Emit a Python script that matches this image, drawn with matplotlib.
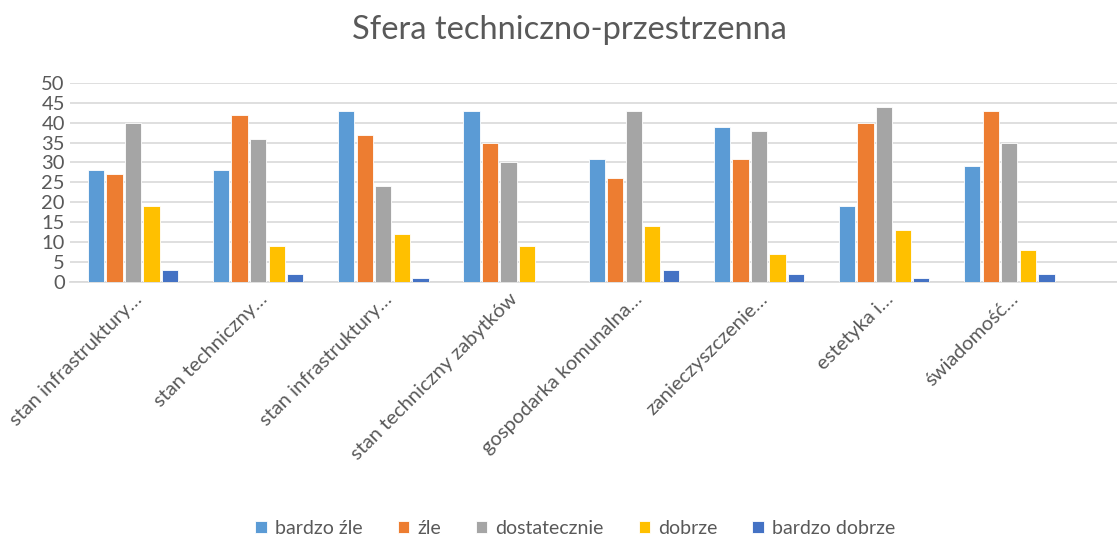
import numpy as np
import matplotlib.pyplot as plt

categories = ["stan infrastruktury…", "stan techniczny…", "stan infrastruktury…",
              "stan techniczny zabytków", "gospodarka komunalna…", "zanieczyszczenie…",
              "estetyka i…", "świadomość…"]
series = ["bardzo źle", "źle", "dostatecznie", "dobrze", "bardzo dobrze"]
bardzo_zle = [28, 28, 43, 43, 31, 39, 19, 29]
zle = [27, 42, 37, 35, 26, 31, 40, 43]
dostatecznie = [40, 36, 24, 30, 43, 38, 44, 35]
dobrze = [19, 9, 12, 9, 14, 7, 13, 8]
bardzo_dobrze = [3, 2, 1, 0, 3, 2, 1, 2]
colors = ["#5B9BD5", "#ED7D31", "#A5A5A5", "#FFC000", "#4472C4"]

plt.rcParams["font.family"] = ["Lato", "DejaVu Sans"]
txt = "#595959"

fig = plt.figure(figsize=(11.17, 5.42), dpi=100)
ax = fig.add_axes([0.063, 0.480, 0.937, 0.367])

x = np.arange(len(categories))
pitch = 0.148
width = 0.13
for i, (vals, name) in enumerate(zip([bardzo_zle, zle, dostatecznie, dobrze, bardzo_dobrze], series)):
    ax.bar(x + (i - 2) * pitch, vals, width=width, color=colors[i], label=name,
           edgecolor="white", linewidth=0.6, zorder=3)

ax.set_ylim(0, 50)
ax.set_xlim(-0.5, 7.86)
ax.set_yticks(range(0, 51, 5))
ax.yaxis.grid(True, color="#D9D9D9", linewidth=1.2, zorder=0)
for s in ["top", "right", "left"]:
    ax.spines[s].set_visible(False)
ax.spines["bottom"].set_color("#D9D9D9")
ax.spines["bottom"].set_linewidth(1.2)
ax.tick_params(axis="y", length=0, labelsize=14.5, labelcolor=txt, pad=4)
ax.tick_params(axis="x", length=0, labelsize=14.5, labelcolor=txt, pad=6)
ax.set_xticks(x)
ax.set_xticklabels(categories, rotation=45, ha="right", rotation_mode="anchor")

fig.text(0.51, 0.945, "Sfera techniczno-przestrzenna", ha="center", va="center",
         fontsize=23.5, color=txt)
fig.legend(loc="center", bbox_to_anchor=(0.515, 0.025), ncol=5, frameon=False,
           fontsize=14, labelcolor=txt, handlelength=0.6, handleheight=0.6,
           handletextpad=0.4, columnspacing=1.8)

fig.savefig("out.png", dpi=100)
